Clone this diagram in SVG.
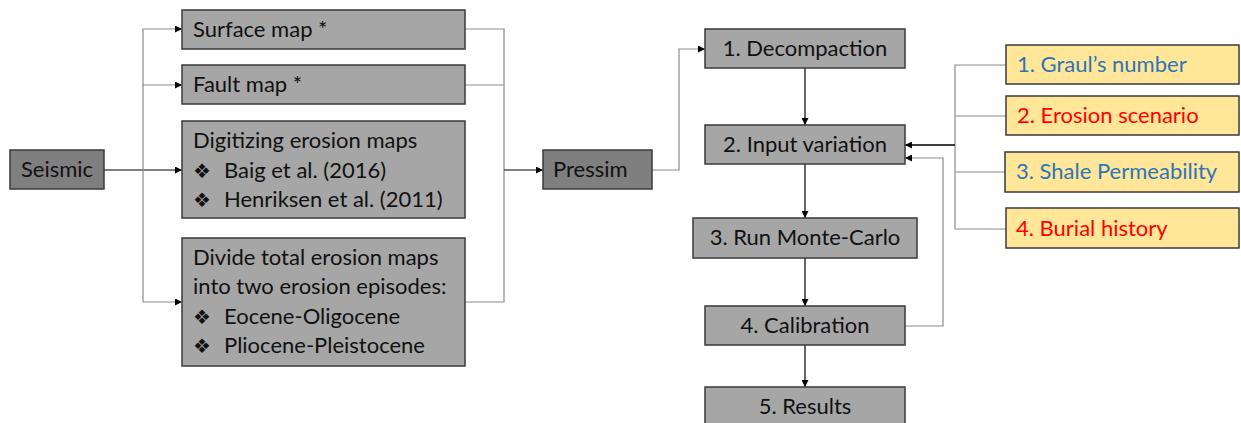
<svg xmlns="http://www.w3.org/2000/svg" width="1241" height="423" viewBox="0 0 1241 423">
<defs>
<marker id="ah" viewBox="0 0 10 10" refX="10" refY="5" markerWidth="7" markerHeight="7" markerUnits="userSpaceOnUse" orient="auto"><path d="M0,0 L10,5 L0,10 z" fill="#000"/></marker>
<style>
.box{fill:#a6a6a6;stroke:#3a3a3a;stroke-width:1.5}
.dark{fill:#7f7f7f;stroke:#3a3a3a;stroke-width:1.5}
.yel{fill:#ffe699;stroke:#3a3a3a;stroke-width:1.5}
text{font-family:"Lato","Open Sans","Liberation Sans",sans-serif;font-size:22px;fill:#111}
.c{text-anchor:middle}
.blue{fill:#2e75b6}
.red{fill:#ff0000}
.bul{font-family:"DejaVu Sans",sans-serif;font-size:20px;fill:#111}
.g{fill:none;stroke:#8c8c8c;stroke-width:1.2}
.k{fill:none;stroke:#000;stroke-width:1.2}
</style>
</defs>
<g id="connectors">
<path class="k" d="M104,170 H182" marker-end="url(#ah)"/>
<path class="g" d="M143,302 V29 H182" marker-end="url(#ah)"/>
<path class="g" d="M143,85 H182" marker-end="url(#ah)"/>
<path class="g" d="M143,302 H182" marker-end="url(#ah)"/>
<path class="g" d="M465,29 H504 V302 H465"/>
<path class="g" d="M465,85 H504"/>
<path class="k" d="M504,170 H543" marker-end="url(#ah)"/>
<path class="g" d="M652,170 H679 V49 H705" marker-end="url(#ah)"/>
<path class="k" d="M805,68 V125" marker-end="url(#ah)"/>
<path class="k" d="M805,164 V218" marker-end="url(#ah)"/>
<path class="k" d="M805,258 V306" marker-end="url(#ah)"/>
<path class="k" d="M805,345 V387" marker-end="url(#ah)"/>
<path class="g" d="M1006,65 H955 V229 H1006"/>
<path class="g" d="M955,116 H1006"/>
<path class="g" d="M955,172 H1005"/>
<path class="k" d="M955,145 H905" marker-end="url(#ah)" style="stroke-width:1.6"/>
<path class="g" d="M905,326 H943 V158 H905" marker-end="url(#ah)"/>
</g>
<g id="seismic"><rect class="dark" x="10" y="150" width="94" height="39"/><text class="c" x="57" y="177">Seismic</text></g>
<g id="surface-map"><rect class="box" x="182" y="10" width="283" height="39"/><text x="193" y="37">Surface map *</text></g>
<g id="fault-map"><rect class="box" x="182" y="65" width="283" height="39"/><text x="193" y="92">Fault map *</text></g>
<g id="digitizing"><rect class="box" x="182" y="121" width="283" height="97"/>
<text x="193" y="148">Digitizing erosion maps</text>
<text class="bul" x="193" y="178">❖︎</text><text x="224" y="178">Baig et al. (2016)</text>
<text class="bul" x="193" y="207">❖︎</text><text x="224" y="207">Henriksen et al. (2011)</text></g>
<g id="divide"><rect class="box" x="182" y="238" width="283" height="128"/>
<text x="193" y="265">Divide total erosion maps</text>
<text x="193" y="294">into two erosion episodes:</text>
<text class="bul" x="193" y="324">❖︎</text><text x="224" y="324">Eocene-Oligocene</text>
<text class="bul" x="193" y="353">❖︎</text><text x="224" y="353">Pliocene-Pleistocene</text></g>
<g id="pressim"><rect class="dark" x="543" y="150" width="109" height="39"/><text x="553" y="177">Pressim</text></g>
<g id="decompaction"><rect class="box" x="705" y="29" width="200" height="39"/><text class="c" x="805" y="56">1. Decompaction</text></g>
<g id="input-variation"><rect class="box" x="705" y="125" width="200" height="39"/><text class="c" x="805" y="152">2. Input variation</text></g>
<g id="monte-carlo"><rect class="box" x="693" y="218" width="224" height="40"/><text class="c" x="805" y="245">3. Run Monte-Carlo</text></g>
<g id="calibration"><rect class="box" x="705" y="306" width="200" height="39"/><text class="c" x="805" y="333">4. Calibration</text></g>
<g id="results"><rect class="box" x="705" y="387" width="200" height="40"/><text class="c" x="805" y="414">5. Results</text></g>
<g id="graul"><rect class="yel" x="1006" y="45" width="233" height="39"/><text class="blue" x="1017" y="72">1. Graul’s number</text></g>
<g id="erosion-scenario"><rect class="yel" x="1006" y="96" width="233" height="39"/><text class="red" x="1017" y="123">2. Erosion scenario</text></g>
<g id="shale"><rect class="yel" x="1005" y="152" width="234" height="40"/><text class="blue" x="1016" y="179">3. Shale Permeability</text></g>
<g id="burial"><rect class="yel" x="1006" y="208" width="233" height="40"/><text class="red" x="1016" y="236">4. Burial history</text></g>
</svg>
